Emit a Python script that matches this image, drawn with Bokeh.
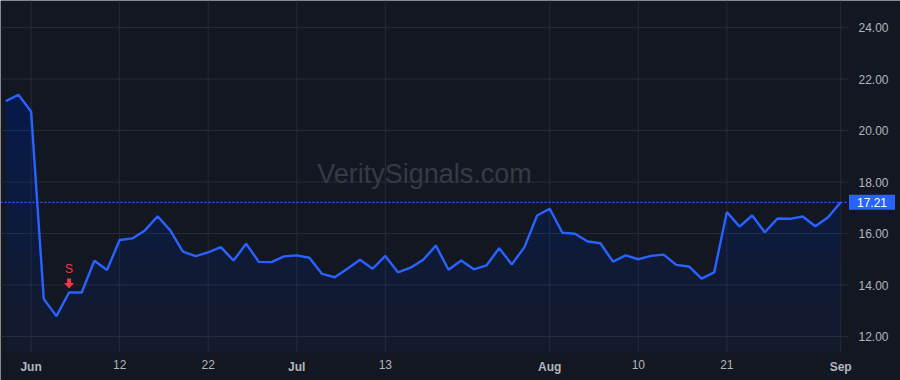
import numpy as np
from bokeh.plotting import figure
from bokeh.models import (Range1d, FixedTicker, NumeralTickFormatter, Label,
                          LinearAxis, ColumnDataSource)
from bokeh.core.properties import value
from bokeh.embed import file_html
from bokeh.resources import INLINE

# ---------------- data (trading days 30 May 2023 -> 1 Sep 2023) ----------------
prices = [21.14, 21.39, 20.74, 13.46, 12.79, 13.71, 13.71, 14.94, 14.58, 15.75,
          15.81, 16.12, 16.67, 16.12, 15.30, 15.12, 15.27, 15.47, 14.95, 15.60,
          14.90, 14.89, 15.11, 15.15, 15.06, 14.43, 14.30, 14.63, 14.98, 14.63,
          15.13, 14.49, 14.67, 14.98, 15.53, 14.59, 14.95, 14.61, 14.76, 15.43,
          14.80, 15.47, 16.70, 16.96, 16.03, 15.99, 15.69, 15.62, 14.91, 15.15,
          15.00, 15.13, 15.18, 14.78, 14.72, 14.25, 14.49, 16.83, 16.27, 16.70,
          16.05, 16.58, 16.57, 16.66, 16.28, 16.63, 17.21]
x_tick_idx = [2, 9, 16, 23, 30, 43, 50, 57, 66]
x_tick_labels = ["Jun", "12", "22", "Jul", "13", "Aug", "10", "21", "Sep"]
month_labels = ["Jun", "Jul", "Aug", "Sep"]
y_ticks = [12, 14, 16, 18, 20, 22, 24]
sell_idx = [5]
sell_text = ["S"]
watermark = "VeritySignals.com"

# ---------------- style / layout ----------------
BG = "#131722"
GRID = "#262a35"
BLUE = "#2962ff"
RED = "#f23645"
TXT = "#b2b5be"
FONT = "Liberation Sans"
W, H = 900, 380
PR, PB = 848, 352          # right / bottom edge of the pane (px)
ppx, ppy = 12.65, 25.75    # px per bar, px per price unit
X0 = -5.3 / ppx
X1 = X0 + W / ppx
Xr = X0 + PR / ppx
Y1 = 12 + 336 / ppy
Y0 = Y1 - H / ppy
Yb = Y1 - PB / ppy

idx = np.arange(len(prices))
pr = np.array(prices)

p = figure(width=W, height=H, x_range=Range1d(X0, X1), y_range=Range1d(Y0, Y1),
           output_backend="svg", toolbar_location=None, y_axis_location="right",
           min_border=0, background_fill_color=BG, border_fill_color=BG,
           outline_line_color=None)
p.grid.visible = False

# grid lines of the pane
p.segment(x0=x_tick_idx, y0=Yb, x1=x_tick_idx, y1=Y1, line_color=GRID, line_width=1)
p.segment(x0=X0, y0=y_ticks, x1=Xr, y1=y_ticks, line_color=GRID, line_width=1)

# gradient-like area fill
a_bot, a_top, N = 0.05, 0.26, 20
p.varea(x=idx, y1=np.full(len(pr), Yb), y2=pr, fill_color=BLUE, fill_alpha=a_bot)
for k in range(N):
    t = Yb + (Y1 - Yb) * (k + 1) / (N + 1)
    p.varea(x=idx, y1=np.minimum(t, pr), y2=pr, fill_color=BLUE,
            fill_alpha=(a_top - a_bot) / N)

# last price dotted line
p.segment(x0=X0, y0=prices[-1], x1=Xr, y1=prices[-1], line_color=BLUE,
          line_dash="2 2", line_width=1.3)

p.line(idx, pr, line_color=BLUE, line_width=2.4)

# sell signal
sx = np.array(sell_idx, dtype=float)
sy = pr[sell_idx]
src = ColumnDataSource(dict(x=sx, y=sy, t=sell_text))
p.text(x="x", y="y", text="t", source=src, y_offset=-23, text_align="center",
       text_baseline="middle", text_color=RED, text_font=value(FONT),
       text_font_size="12px")
p.rect(x=sx, y=sy + 11.5 / ppy, width=4, height=5, width_units="screen",
       height_units="screen", fill_color=RED, line_color=None)
hx = [[x - 5 / ppx, x + 5 / ppx, x] for x in sx]
hy = [[y + 9.5 / ppy, y + 9.5 / ppy, y + 4 / ppy] for y in sy]
p.patches(hx, hy, fill_color=RED, line_color=None)

# watermark
p.add_layout(Label(x=PR / 2, y=H - 173, x_units="screen", y_units="screen",
                   text=watermark, text_align="center", text_baseline="middle",
                   text_color="#363a45", text_font=FONT, text_font_size="27px"))

# axes (drawn at the pane edges)
p.yaxis.fixed_location = Xr
p.yaxis.ticker = FixedTicker(ticks=y_ticks)
p.yaxis.formatter = NumeralTickFormatter(format="0.00")
p.xaxis.fixed_location = Yb
p.xaxis.ticker = FixedTicker(ticks=x_tick_idx)
p.xaxis.major_label_overrides = {i: ("" if l in month_labels else l)
                                 for i, l in zip(x_tick_idx, x_tick_labels)}
mt = [i for i, l in zip(x_tick_idx, x_tick_labels) if l in month_labels]
month_axis = LinearAxis(fixed_location=Yb, ticker=FixedTicker(ticks=mt),
                        major_label_overrides={i: l for i, l in zip(x_tick_idx, x_tick_labels)
                                               if l in month_labels})
p.add_layout(month_axis, "below")
for ax in (p.xaxis[0], p.yaxis[0], month_axis):
    ax.axis_line_color = None
    ax.major_tick_line_color = None
    ax.minor_tick_line_color = None
    ax.major_label_text_color = TXT
    ax.major_label_text_font = FONT
    ax.major_label_text_font_size = "12px"
    ax.major_label_standoff = 1
month_axis.major_label_text_font_style = "bold"
p.yaxis.major_label_standoff = 4

# last price tag on the price scale
p.add_layout(Label(x=(PR + 894) / 2 + 0.5, y=prices[-1], x_units="screen", y_units="data",
                   text=f"{prices[-1]:.2f}", text_align="center", text_baseline="middle",
                   text_color="#ffffff", text_font=FONT, text_font_size="12px",
                   background_fill_color=BLUE,
                   padding=dict(left=8, right=8, top=3, bottom=3)))

open("out.html", "w").write(file_html(p, INLINE))
